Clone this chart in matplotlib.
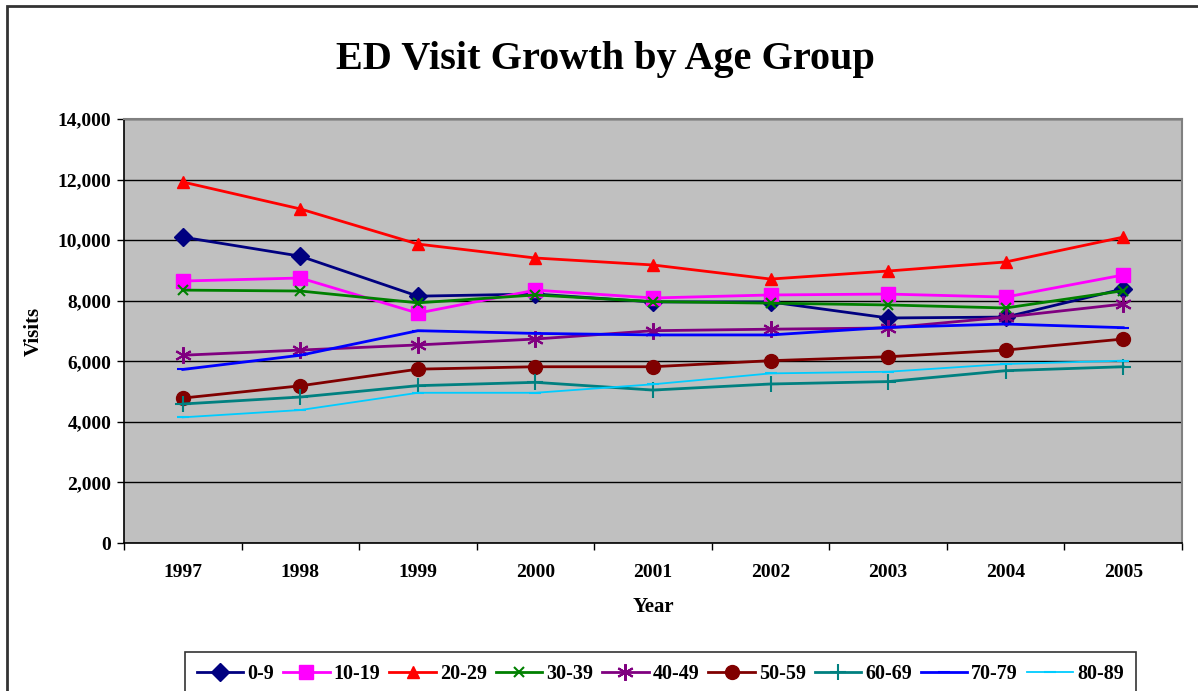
import matplotlib.pyplot as plt
from matplotlib.patches import Rectangle
from matplotlib.ticker import FuncFormatter, FixedLocator

# Data
years = ["1997", "1998", "1999", "2000", "2001", "2002", "2003", "2004", "2005"]
age_0_9 = [10100, 9470, 8150, 8220, 7960, 7960, 7430, 7460, 8390]
age_10_19 = [8650, 8750, 7590, 8350, 8090, 8190, 8220, 8120, 8850]
age_20_29 = [11920, 11030, 9870, 9410, 9180, 8715, 8980, 9280, 10100]
age_30_39 = [8350, 8320, 7930, 8190, 7970, 7920, 7860, 7760, 8330]
age_40_49 = [6200, 6370, 6540, 6735, 7010, 7060, 7100, 7460, 7890]
age_50_59 = [4785, 5190, 5740, 5820, 5820, 6020, 6150, 6370, 6735]
age_60_69 = [4590, 4820, 5195, 5305, 5050, 5250, 5330, 5690, 5820]
age_70_79 = [5730, 6200, 7010, 6920, 6870, 6870, 7120, 7230, 7110]
age_80_89 = [4150, 4390, 4960, 4960, 5240, 5600, 5655, 5910, 6020]

series = [
    ("0-9", age_0_9, "#000080", "D", 9),
    ("10-19", age_10_19, "#FF00FF", "s", 10),
    ("20-29", age_20_29, "#FF0000", "^", 8),
    ("30-39", age_30_39, "#008000", "x", 7),
    ("40-49", age_40_49, "#800080", (6, 2, 0), 12),
    ("50-59", age_50_59, "#800000", "o", 10),
    ("60-69", age_60_69, "#008080", "+", 12),
    ("70-79", age_70_79, "#0000FF", "_", 8),
    ("80-89", age_80_89, "#00CCFF", "_", 8),
]

plt.rcParams["font.family"] = ["Liberation Serif", "DejaVu Serif"]
plt.rcParams["font.weight"] = "bold"

fig = plt.figure(figsize=(11.98, 6.91), dpi=100)
W, H = 1198, 691
ax = fig.add_axes([124 / W, 1 - 543 / H, (1182 - 124) / W, (543 - 119) / H])
ax.set_facecolor("#C0C0C0")

# chart area border
fig.patches.append(Rectangle((7 / W, -0.05), 1.2, 1 - 6 / H + 0.05,
                             transform=fig.transFigure, fill=False,
                             edgecolor="#333333", linewidth=2))

x = list(range(len(years)))
for name, vals, color, marker, ms in series:
    lw = 1.3 if name == "80-89" else 2
    ax.plot(x, vals, color=color, linewidth=lw, marker=marker, markersize=ms,
            markeredgewidth=1.5 if marker in ("x", "+", "_", (6, 2, 0)) else 1,
            markerfacecolor=color, markeredgecolor=color, label=name, zorder=3)

ax.set_xlim(-0.5, len(years) - 0.5)
ax.set_ylim(0, 14000)
ax.set_yticks(range(0, 14001, 2000))
ax.yaxis.set_major_formatter(FuncFormatter(lambda v, p: f"{int(v):,}"))
ax.grid(axis="y", color="black", linewidth=1, zorder=1)
ax.set_axisbelow(True)

ax.set_xticks(x)
ax.set_xticklabels(years)
ax.xaxis.set_minor_locator(FixedLocator([i - 0.5 for i in range(len(years) + 1)]))
ax.tick_params(axis="x", which="major", length=0, pad=15, labelsize=14)
ax.tick_params(axis="x", which="minor", length=5, width=1, direction="out")
ax.tick_params(axis="y", length=5, width=1, direction="out", labelsize=14, pad=4)

for side in ("left", "bottom"):
    ax.spines[side].set_color("black")
    ax.spines[side].set_linewidth(1.2)
for side in ("top", "right"):
    ax.spines[side].set_color("#808080")
    ax.spines[side].set_linewidth(1.5)

ax.set_xlabel("Year", fontsize=15, fontweight="bold", labelpad=12)
ax.set_ylabel("Visits", fontsize=15, fontweight="bold", labelpad=10)

fig.text(605 / W, 1 - 59 / H, "ED Visit Growth by Age Group", ha="center",
         va="center", fontsize=29, fontweight="bold")

leg = fig.legend(loc="upper left", bbox_to_anchor=(185 / W, 1 - 652 / H),
                 ncol=9, frameon=True, fancybox=False, borderaxespad=0,
                 handlelength=2.3, handletextpad=0.2, columnspacing=0.45,
                 borderpad=0.6, prop={"weight": "bold", "size": 14.5})
leg.get_frame().set_edgecolor("black")
leg.get_frame().set_linewidth(1.2)

fig.savefig("out.png", dpi=100)
